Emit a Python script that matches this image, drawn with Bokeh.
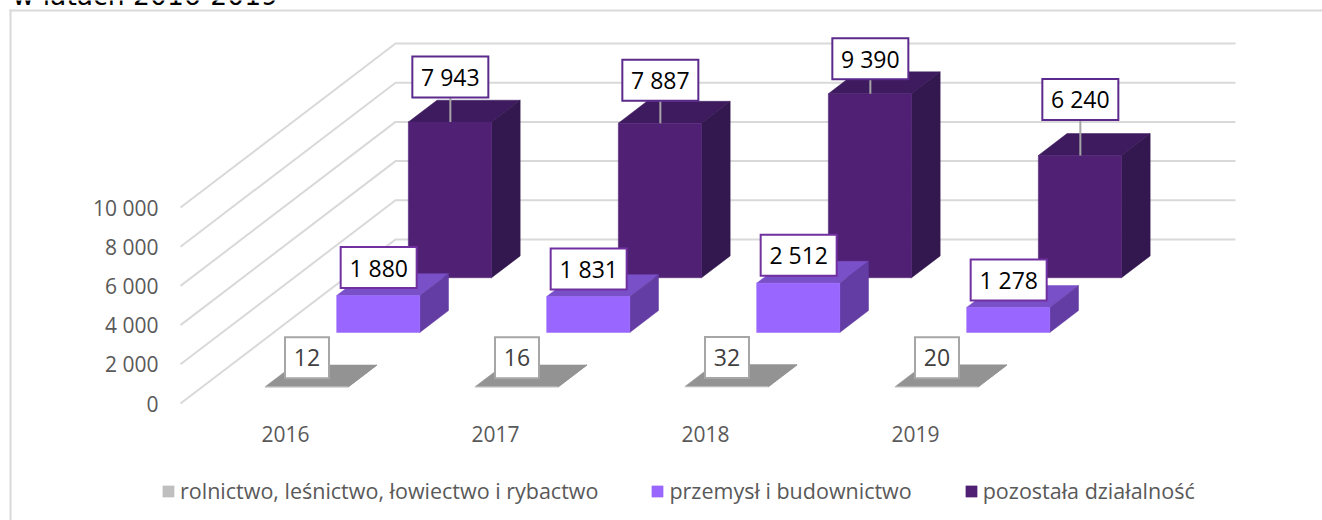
from bokeh.plotting import figure
from bokeh.models import BoxAnnotation, FixedTicker, Label, Legend, LegendItem
from bokeh.core.properties import value
from bokeh.embed import file_html
from bokeh.resources import INLINE

years = ["2016", "2017", "2018", "2019"]
series_names = ["rolnictwo, leśnictwo, łowiectwo i rybactwo", "przemysł i budownictwo", "pozostała działalność"]
rolnictwo = [12, 16, 32, 20]
przemysl = [1880, 1831, 2512, 1278]
pozostala = [7943, 7887, 9390, 6240]
y_ticks = [0, 2000, 4000, 6000, 8000, 10000]

# styles and geometry, separate from the data
series_values = [rolnictwo, przemysl, pozostala]
front_colors = ["#BFBFBF", "#9966FF", "#4F2074"]
top_colors = ["#939393", "#7A50C8", "#3E1A5E"]
side_colors = ["#8A8A8A", "#633DA3", "#33174F"]
box_colors = ["#A6A6A6", "#7030A0", "#5B2A8C"]
text_colors = ["#404040", "#000000", "#000000"]
box_widths = [44, 76, 76]
label_raise_px = [[29, 29, 29, 29], [28, 27.5, 28, 27.4], [45, 43, 35, 56]]

PX_PER_CAT = 210
PX_PER_UNIT = 0.0196
DX = 71.67 / PX_PER_CAT
DY = 54.67 / PX_PER_UNIT
FONT = "Open Sans"
BAR_START, BAR_END = 0.3, 0.696


def proj(c, d, v):
    return c + DX * d, v + DY * d


W, H = 1322, 520
LEFT, FLOOR = 180, 403
p = figure(width=W, height=H, output_backend="svg", toolbar_location=None,
           x_range=(-LEFT / PX_PER_CAT, (W - LEFT) / PX_PER_CAT),
           y_range=(-(H - FLOOR) / PX_PER_UNIT, FLOOR / PX_PER_UNIT),
           min_border_left=0, min_border_right=0, min_border_top=0, min_border_bottom=0,
           outline_line_color=None, background_fill_color=None)
p.grid.visible = False

for ax, ticks, over, standoff in [
    (p.yaxis[0], y_ticks, {t: f"{t:,}".replace(",", " ") for t in y_ticks}, 16),
    (p.xaxis[0], [i + 0.5 for i in range(len(years))], {i + 0.5: y for i, y in enumerate(years)}, 16),
]:
    ax.fixed_location = 0
    ax.ticker = FixedTicker(ticks=ticks)
    ax.major_label_overrides = over
    ax.major_label_standoff = standoff
    ax.axis_line_color = None
    ax.major_tick_line_color = None
    ax.minor_tick_line_color = None
    ax.major_label_text_font = FONT
    ax.major_label_text_font_size = "21px"
    ax.major_label_text_color = "#595959"

# walls
for t in y_ticks:
    a = proj(0, 0, t)
    b = proj(0, 3, t)
    c = proj(len(years), 3, t)
    p.line([a[0], b[0], c[0]], [a[1], b[1], c[1]], line_color="#D9D9D9", line_width=2)

# bars, back to front
fronts = {}
for s in [2, 1, 0]:
    top_xs, top_ys, side_xs, side_ys, front_xs, front_ys = [], [], [], [], [], []
    d0, d1 = s + 0.3, s + 0.7
    for i, v in enumerate(series_values[s]):
        c0, c1 = i + BAR_START, i + BAR_END
        for pts, xs, ys in [
            ([(c0, d0, v), (c1, d0, v), (c1, d1, v), (c0, d1, v)], top_xs, top_ys),
            ([(c1, d0, 0), (c1, d1, 0), (c1, d1, v), (c1, d0, v)], side_xs, side_ys),
            ([(c0, d0, 0), (c1, d0, 0), (c1, d0, v), (c0, d0, v)], front_xs, front_ys),
        ]:
            q = [proj(*pt) for pt in pts]
            xs.append([k[0] for k in q])
            ys.append([k[1] for k in q])
    p.patches(top_xs, top_ys, fill_color=top_colors[s], line_color=top_colors[s], line_width=0.5)
    p.patches(side_xs, side_ys, fill_color=side_colors[s], line_color=side_colors[s], line_width=0.5)
    fronts[s] = p.patches(front_xs, front_ys, fill_color=front_colors[s], line_color=front_colors[s], line_width=0.5)

# leader lines, then label boxes and texts
for s in [2, 1, 0]:
    xs, ys, ly, texts = [], [], [], []
    for i, v in enumerate(series_values[s]):
        x, y = proj(i + 0.5, s + 0.3, v)
        xs.append(x)
        ys.append(y)
        ly.append(y + label_raise_px[s][i] / PX_PER_UNIT)
        texts.append(f"{v:,}".replace(",", " "))
    if s == 2:
        p.segment(xs, ys, xs, ly, line_color="#A6A6A6", line_width=2)
    p.rect(xs, ly, width=box_widths[s], height=41, width_units="screen", height_units="screen",
           fill_color="white", line_color=box_colors[s], line_width=2, line_join="miter")
    p.text(xs, ly, text=texts, text_align="center", text_baseline="middle",
           text_font=value(FONT), text_font_size="23px", text_color=text_colors[s])

# chart area edges, which run on past the photographed page
p.add_layout(BoxAnnotation(left=9, right=11, top=H - 9, bottom=0, left_units="screen", right_units="screen",
                           top_units="screen", bottom_units="screen", fill_color="#D9D9D9", fill_alpha=1,
                           line_color=None))
p.add_layout(BoxAnnotation(left=9, right=W, top=H - 9, bottom=H - 11, left_units="screen", right_units="screen",
                           top_units="screen", bottom_units="screen", fill_color="#D9D9D9", fill_alpha=1,
                           line_color=None))

p.add_layout(Label(x=12, y=H + 5, x_units="screen", y_units="screen", text="w latach 2016-2019",
                   text_font="DejaVu Sans", text_font_size="26.6px", text_color="#000000", text_baseline="alphabetic"))

legend = Legend(items=[LegendItem(label=series_names[s], renderers=[fronts[s]]) for s in range(3)],
                orientation="horizontal", location=(161, 15), spacing=52, glyph_width=14, glyph_height=14,
                label_standoff=5, label_text_font=FONT, label_text_font_size="21.5px", label_text_color="#595959",
                background_fill_alpha=0, border_line_color=None, margin=0, padding=0)
p.add_layout(legend, "center")

open("out.html", "w").write(file_html(p, INLINE))
